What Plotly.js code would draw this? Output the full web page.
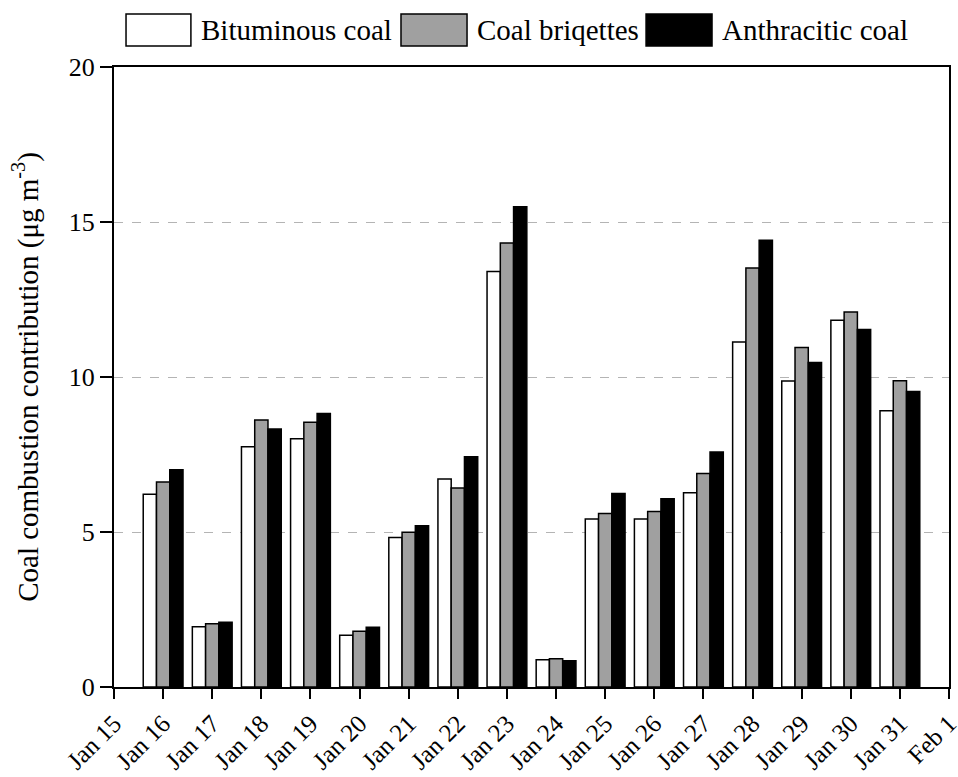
<!DOCTYPE html>
<html>
<head>
<meta charset="utf-8">
<script src="https://cdn.plot.ly/plotly-3.0.1.min.js"></script>
<style>html,body{margin:0;padding:0;background:#fff;}#chart{width:958px;height:777px;}</style>
</head>
<body>
<div id="chart"></div>
<script>
// ---- data ----
const days = [16, 17, 18, 19, 20, 21, 22, 23, 24, 25, 26, 27, 28, 29, 30, 31];
const tickDays = [15, 16, 17, 18, 19, 20, 21, 22, 23, 24, 25, 26, 27, 28, 29, 30, 31, 32];
const tickLabels = ["Jan 15", "Jan 16", "Jan 17", "Jan 18", "Jan 19", "Jan 20", "Jan 21", "Jan 22", "Jan 23",
  "Jan 24", "Jan 25", "Jan 26", "Jan 27", "Jan 28", "Jan 29", "Jan 30", "Jan 31", "Feb 1"];
const seriesNames = ["Bituminous coal", "Coal briqettes", "Anthracitic coal"];
const bituminous = [6.22, 1.94, 7.75, 8.01, 1.67, 4.82, 6.71, 13.40, 0.88, 5.42, 5.42, 6.27, 11.13, 9.87, 11.83, 8.91];
const briquettes = [6.61, 2.04, 8.61, 8.54, 1.80, 4.99, 6.42, 14.32, 0.91, 5.60, 5.66, 6.89, 13.52, 10.95, 12.10, 9.88];
const anthracitic = [7.01, 2.09, 8.32, 8.82, 1.93, 5.20, 7.43, 15.49, 0.85, 6.24, 6.07, 7.58, 14.41, 10.47, 11.53, 9.53];

// ---- styles ----
const fills = ["#ffffff", "#a0a0a0", "#000000"];
const FONT = "Liberation Serif";
const values = [bituminous, briquettes, anthracitic];

const traces = values.map((v, i) => ({
  type: "bar",
  x: days,
  y: v,
  name: seriesNames[i],
  marker: { color: fills[i], line: { color: "#000", width: 1.5 } },
  showlegend: false
}));

// custom legend (boxes + labels in paper coordinates)
const legBoxes = [[0.0144, 0.0921], [0.3437, 0.4228], [0.6372, 0.7162]];
const legText = [0.1017, 0.4324, 0.7258];
const shapes = legBoxes.map((b, i) => ({
  type: "rect", xref: "paper", yref: "paper",
  x0: b[0], x1: b[1], y0: 1.0339, y1: 1.0855,
  fillcolor: fills[i], line: { color: "#000", width: 1.5 }
}));
const annotations = seriesNames.map((n, i) => ({
  xref: "paper", yref: "paper", x: legText[i], y: 1.0597,
  xanchor: "left", yanchor: "middle", text: n, showarrow: false,
  font: { family: FONT, size: 29, color: "#000" }
}));

const layout = {
  width: 958, height: 777,
  margin: { l: 114, r: 9, t: 67, b: 90 },
  paper_bgcolor: "#fff", plot_bgcolor: "#fff",
  font: { family: FONT, color: "#000" },
  barmode: "group", bargap: 0.19, bargroupgap: 0,
  xaxis: {
    range: [15, 32], tickmode: "array", tickvals: tickDays, ticktext: tickLabels,
    tickangle: -45, tickfont: { family: FONT, size: 25 }, ticklabeloverflow: "allow",
    showline: true, mirror: true, linewidth: 2, linecolor: "#000",
    ticks: "outside", ticklen: 10, tickwidth: 2, tickcolor: "#000",
    showgrid: false, zeroline: false, automargin: false
  },
  yaxis: {
    range: [0, 20], dtick: 5, tick0: 0,
    tickfont: { family: FONT, size: 26 },
    showline: true, mirror: true, linewidth: 2, linecolor: "#000",
    ticks: "outside", ticklen: 12, tickwidth: 2, tickcolor: "#000",
    showgrid: true, gridcolor: "#b4b4b4", griddash: "dash", gridwidth: 1,
    zeroline: false, automargin: false,
    title: { text: "Coal combustion contribution (μg m<sup>-3</sup>)", font: { family: FONT, size: 29 }, standoff: 22 }
  },
  shapes: shapes,
  annotations: annotations
};

Plotly.newPlot("chart", traces, layout, { displayModeBar: false, staticPlot: true });
</script>
</body>
</html>
